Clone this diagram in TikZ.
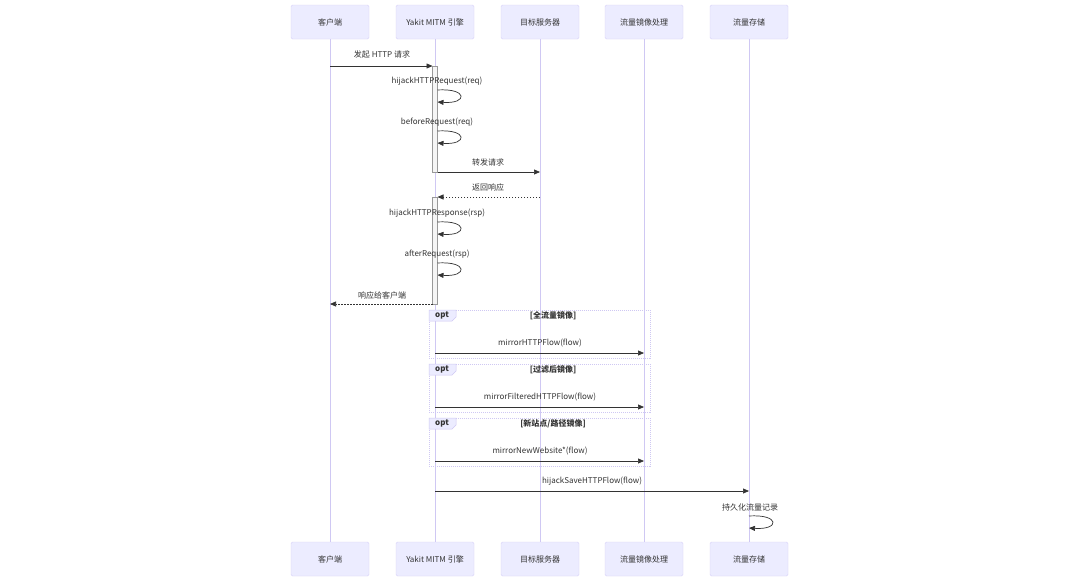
\documentclass[tikz,border=0pt]{standalone}
\usepackage{fontspec}
\setmainfont{Noto Sans CJK SC}
\usetikzlibrary{arrows.meta}
\definecolor{actfill}{HTML}{ECECFF}
\definecolor{actline}{HTML}{D8D2F7}
\definecolor{lifeline}{HTML}{CFC8F3}
\definecolor{ink}{HTML}{333333}
\tikzset{
  actor/.style={draw=actline, fill=actfill, rounded corners=1.5pt, minimum width=78pt, minimum height=34pt, text=ink, font=\fontsize{8}{9}\selectfont},
  life/.style={draw=lifeline, line width=0.8pt},
  msg/.style={draw=ink, line width=0.7pt, -{Triangle[length=6pt,width=5pt]}},
  reply/.style={msg, dash pattern=on 1.5pt off 1.5pt},
  lbl/.style={text=ink, font=\fontsize{8}{9}\selectfont, inner sep=0pt},
  actbox/.style={draw=gray!80, fill=gray!8, line width=0.5pt},
  optbox/.style={draw=lifeline, line width=0.7pt, dash pattern=on 1pt off 1pt},
  opttab/.style={fill=actfill, draw=lifeline, line width=0.5pt},
  optlbl/.style={text=ink, font=\fontsize{8}{9}\selectfont\bfseries, inner sep=0pt}
}
\begin{document}
\begin{tikzpicture}[x=1pt,y=-1pt]
    \useasboundingbox[fill=white] (0,0) rectangle (1080,582);

    % actors, top and bottom
    \node[actor] (cliT) at (330,22) {客户端};
    \node[actor] (yakT) at (435,22) {Yakit MITM 引擎};
    \node[actor] (srvT) at (540,22) {目标服务器};
    \node[actor] (mirT) at (644,22) {流量镜像处理};
    \node[actor] (stoT) at (749,22) {流量存储};

    \node[actor] (cliB) at (330,559) {客户端};
    \node[actor] (yakB) at (435,559) {Yakit MITM 引擎};
    \node[actor] (srvB) at (540,559) {目标服务器};
    \node[actor] (mirB) at (644,559) {流量镜像处理};
    \node[actor] (stoB) at (749,559) {流量存储};

    \draw[life] (cliT) -- (cliB);
    \draw[life] (yakT) -- (yakB);
    \draw[life] (srvT) -- (srvB);
    \draw[life] (mirT) -- (mirB);
    \draw[life] (stoT) -- (stoB);

    % opt frames
    \draw[optbox] (429,310) rectangle (650,358);
    \draw[opttab] (429,310) -- (456,310) -- (456,317) -- (452,321) -- (429,321) -- cycle;
    \node[optlbl] (opt1) at (442,315.5) {opt};
    \node[optlbl] (cond1) at (553,316) {[全流量镜像]};

    \draw[optbox] (429,364) rectangle (650,412);
    \draw[opttab] (429,364) -- (456,364) -- (456,371) -- (452,375) -- (429,375) -- cycle;
    \node[optlbl] (opt2) at (442,369.5) {opt};
    \node[optlbl] (cond2) at (553,370) {[过滤后镜像]};

    \draw[optbox] (429,418) rectangle (650,466);
    \draw[opttab] (429,418) -- (456,418) -- (456,425) -- (452,429) -- (429,429) -- cycle;
    \node[optlbl] (opt3) at (442,423.5) {opt};
    \node[optlbl] (cond3) at (553,424) {[新站点/路径镜像]};

    % activations
    \draw[actbox] (432.5,66) rectangle (437.5,172);
    \draw[actbox] (432.5,197) rectangle (437.5,304);

    % request
    \coordinate (m1a) at (330,66);
    \coordinate (m1b) at (432.5,66);
    \draw[msg] (m1a) -- (m1b);
    \node[lbl] (l1) at (382,54) {发起 HTTP 请求};

    \node[lbl] (l2) at (437,81) {hijackHTTPRequest(req)};
    \coordinate (s2a) at (437.5,90);
    \coordinate (s2b) at (437.5,102);
    \draw[msg] (s2a) .. controls (468,88) and (468,104) .. (s2b);

    \node[lbl] (l3) at (437,122) {beforeRequest(req)};
    \coordinate (s3a) at (437.5,131);
    \coordinate (s3b) at (437.5,143);
    \draw[msg] (s3a) .. controls (468,129) and (468,145) .. (s3b);

    \coordinate (m4a) at (437.5,172);
    \coordinate (m4b) at (540,172);
    \draw[msg] (m4a) -- (m4b);
    \node[lbl] (l4) at (488,162) {转发请求};

    \coordinate (m5a) at (540,197);
    \coordinate (m5b) at (437.5,197);
    \draw[reply] (m5a) -- (m5b);
    \node[lbl] (l5) at (488,187) {返回响应};

    \node[lbl] (l6) at (437,213) {hijackHTTPResponse(rsp)};
    \coordinate (s6a) at (437.5,222);
    \coordinate (s6b) at (437.5,234);
    \draw[msg] (s6a) .. controls (468,220) and (468,236) .. (s6b);

    \node[lbl] (l7) at (437,254) {afterRequest(rsp)};
    \coordinate (s7a) at (437.5,263);
    \coordinate (s7b) at (437.5,275);
    \draw[msg] (s7a) .. controls (468,261) and (468,277) .. (s7b);

    \coordinate (m8a) at (432.5,304);
    \coordinate (m8b) at (330,304);
    \draw[reply] (m8a) -- (m8b);
    \node[lbl] (l8) at (382,295) {响应给客户端};

    % mirror flows
    \coordinate (m9a) at (435,353);
    \coordinate (m9b) at (644,353);
    \draw[msg] (m9a) -- (m9b);
    \node[lbl] (l9) at (540,343) {mirrorHTTPFlow(flow)};

    \coordinate (m10a) at (435,407);
    \coordinate (m10b) at (644,407);
    \draw[msg] (m10a) -- (m10b);
    \node[lbl] (l10) at (540,397) {mirrorFilteredHTTPFlow(flow)};

    \coordinate (m11a) at (435,461);
    \coordinate (m11b) at (644,461);
    \draw[msg] (m11a) -- (m11b);
    \node[lbl] (l11) at (540,451) {mirrorNewWebsite*(flow)};

    % save
    \coordinate (m12a) at (435,491);
    \coordinate (m12b) at (749,491);
    \draw[msg] (m12a) -- (m12b);
    \node[lbl] (l12) at (592,481) {hijackSaveHTTPFlow(flow)};

    \node[lbl] (l13) at (750,507) {持久化流量记录};
    \coordinate (s13a) at (749,516);
    \coordinate (s13b) at (749,528);
    \draw[msg] (s13a) .. controls (780,514) and (780,530) .. (s13b);
\end{tikzpicture}
\end{document}
